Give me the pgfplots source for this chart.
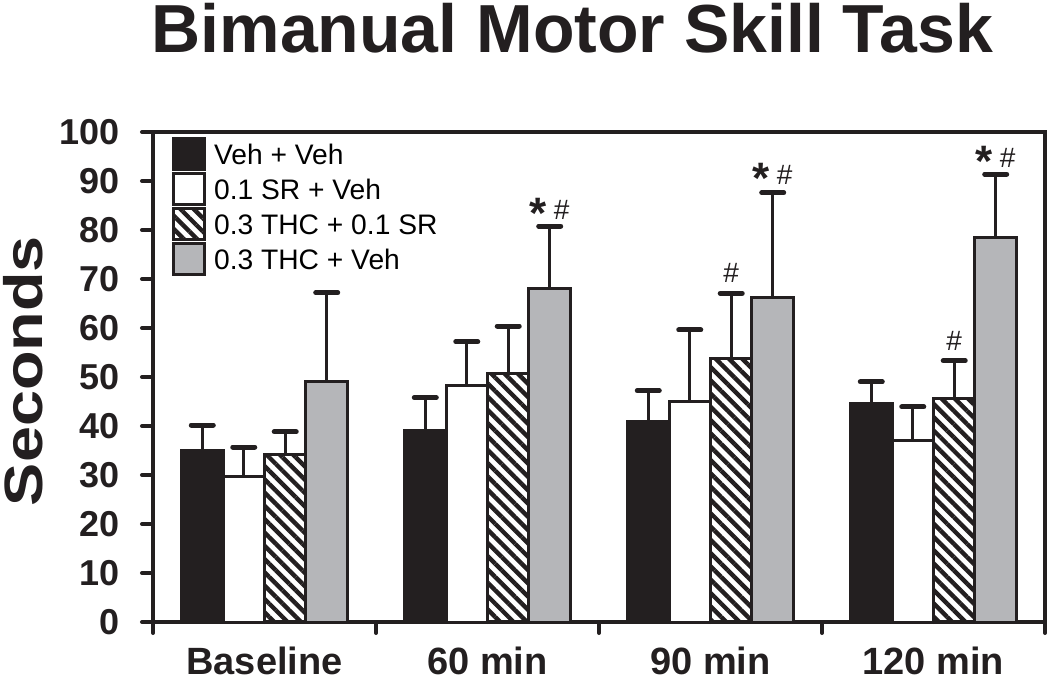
\documentclass[border=0pt]{standalone}
\usepackage{fontspec}
\setmainfont{Liberation Sans}
\usepackage{graphicx}
\usepackage{pgfplots}
\pgfplotsset{compat=1.18}
\usetikzlibrary{patterns.meta}
\definecolor{ink}{HTML}{231F20}
\definecolor{barg}{HTML}{B5B6B9}
\newcommand{\sh}{{\fontsize{22}{22}\selectfont\bfseries\raisebox{-4.6pt}{*}}\hspace{3.5pt}{\fontsize{14}{14}\selectfont\#}}
\newcommand{\hh}{{\fontsize{14}{14}\selectfont\#}}
\begin{document}
\begin{tikzpicture}
\path[use as bounding box] (-76.5pt,-29pt) rectangle (448.5pt,311pt);
\begin{axis}[
  at={(0pt,0pt)}, anchor=south west,
  scale only axis, width=446pt, height=245pt,
  xmin=-0.5, xmax=3.5, ymin=0, ymax=100,
  ybar=0pt, bar width=0.186,
  clip=false,
  xtick={-0.5,0.5,1.5,2.5,3.5}, xticklabels={},
  extra x ticks={0,1,2,3},
  extra x tick labels={Baseline,60 min,90 min,120 min},
  extra x tick style={major tick length=0pt},
  ytick={0,10,...,100},
  tick align=outside,
  tick pos=left,
  major tick length=5.5pt,
  every tick/.style={line width=2pt, ink, line cap=round},
  axis line style={line width=2pt, ink},
  /pgf/number format/assume math mode=true,
  yticklabel style={font=\bfseries\fontsize{18}{18}\selectfont, text=ink, xshift=-7.5pt},
  xticklabel style={font=\bfseries\fontsize{19}{19}\selectfont, text=ink, inner ysep=0pt, text height=13.6pt, text depth=0pt, yshift=-12.6pt},
  title={Bimanual Motor Skill Task},
  title style={font=\bfseries\fontsize{34}{34}\selectfont, text=ink, inner ysep=0pt, text height=24.4pt, text depth=0pt, at={(axis description cs:0.47,1)}, anchor=base, yshift=33.5pt},
  ylabel={\scalebox{1.2}[1]{Seconds}},
  ylabel style={font=\bfseries\fontsize{27}{27}\selectfont, text=ink, at={(axis description cs:-0.146,0.512)}, anchor=center},
  error bars/y dir=plus,
  error bars/y explicit,
  error bars/error bar style={line width=1.5pt, ink},
  error bars/error mark options={rotate=90, line width=2.5pt, mark size=5.5pt, ink, line cap=round},
  every axis plot/.append style={legend image code/.code={\draw[#1,line width=1.5pt] (0pt,-7.75pt) rectangle (15.5pt,7.75pt);}},
  legend style={draw=none, fill=none, inner sep=0pt, row sep=0.5pt,
    at={(axis description cs:0.021,0.99)}, anchor=north west,
    font=\fontsize{14.1}{14.1}\selectfont,
    nodes={inner xsep=4pt, inner ysep=0pt, text height=10.1pt, text depth=0pt}},
  legend cell align=left,
]
\addplot[fill=ink, draw=ink, line width=1.5pt] coordinates {
  (0,35.0) +- (0,5.2)
  (1,39.0) +- (0,6.8)
  (2,40.9) +- (0,6.3)
  (3,44.6) +- (0,4.4)
};
\addplot[fill=white, draw=ink, line width=1.5pt] coordinates {
  (0,29.7) +- (0,6.0)
  (1,48.2) +- (0,9.0)
  (2,45.0) +- (0,14.6)
  (3,37.0) +- (0,6.9)
};
\addplot[pattern={Lines[angle=-45, distance=4.7pt, line width=2.2pt]}, pattern color=ink, draw=ink, line width=1.5pt] coordinates {
  (0,34.2) +- (0,4.6)
  (1,50.8) +- (0,9.6)
  (2,53.7) +- (0,13.4)
  (3,45.6) +- (0,7.7)
};
\addplot[fill=barg, draw=ink, line width=1.5pt] coordinates {
  (0,49.0) +- (0,18.2)
  (1,68.0) +- (0,12.8)
  (2,66.3) +- (0,21.3)
  (3,78.4) +- (0,13.0)
};
\legend{Veh + Veh, 0.1 SR + Veh, 0.3 THC + 0.1 SR, 0.3 THC + Veh}
\node[anchor=base, text=ink] at (axis cs:1.279,82.2) {\sh};
\node[anchor=base, text=ink] at (axis cs:2.093,69.3) {\hh};
\node[anchor=base, text=ink] at (axis cs:2.279,89.3) {\sh};
\node[anchor=base, text=ink] at (axis cs:3.093,55.5) {\hh};
\node[anchor=base, text=ink] at (axis cs:3.279,92.8) {\sh};
\end{axis}
\end{tikzpicture}
\end{document}
